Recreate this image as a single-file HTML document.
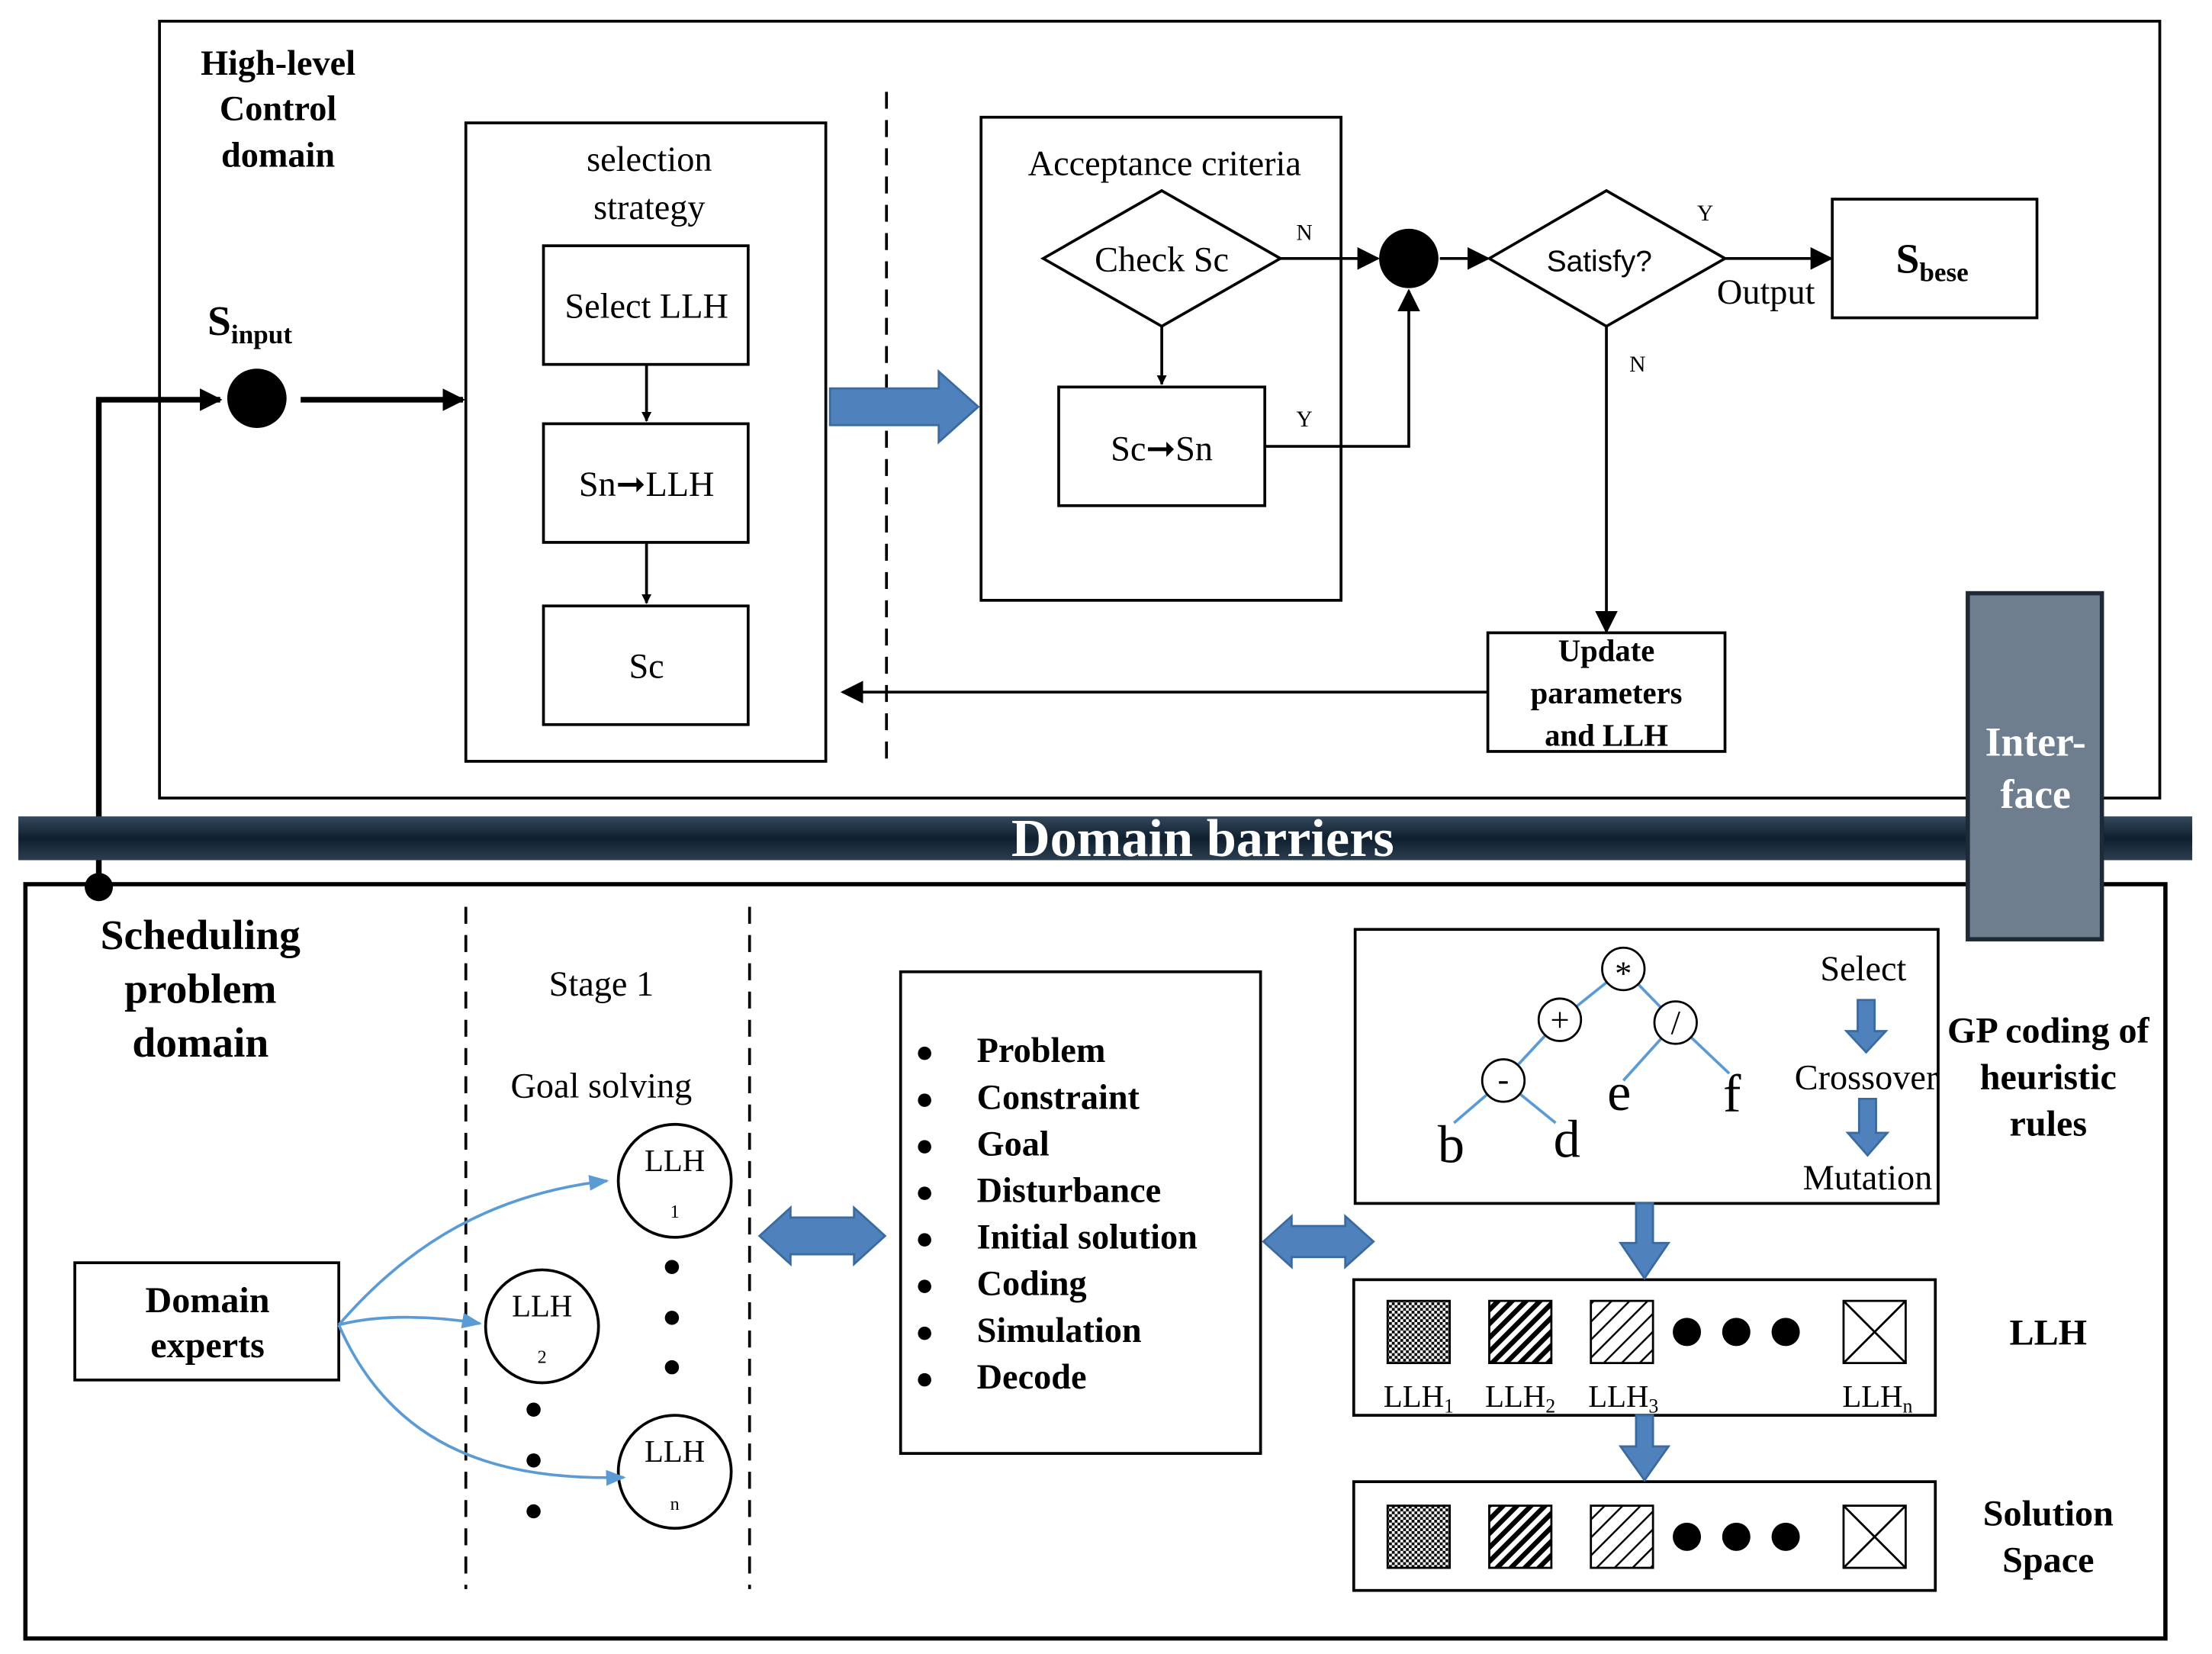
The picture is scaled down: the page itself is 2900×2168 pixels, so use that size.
<!DOCTYPE html>
<html><head><meta charset="utf-8"><style>html,body{margin:0;padding:0;background:#fff}svg{display:block}</style></head>
<body>
<svg width="2900" height="2168" viewBox="0 0 1567 1171" preserveAspectRatio="none" xmlns="http://www.w3.org/2000/svg" font-family="Liberation Serif, serif">
<defs>
<marker id="ah" viewBox="0 0 10 10" refX="9" refY="5" markerWidth="7" markerHeight="7" orient="auto" markerUnits="userSpaceOnUse"><path d="M0,0 L10,5 L0,10 z" fill="#000"/></marker>
<marker id="ahb" viewBox="0 0 10 10" refX="9" refY="5" markerWidth="16" markerHeight="16" orient="auto" markerUnits="userSpaceOnUse"><path d="M0,0 L10,5 L0,10 z" fill="#000"/></marker>
<marker id="ahs" viewBox="0 0 10 10" refX="9" refY="5" markerWidth="14" markerHeight="14" orient="auto" markerUnits="userSpaceOnUse"><path d="M0,1 L10,5 L0,9 z" fill="#5b9bd5"/></marker>
<pattern id="chk" width="4" height="4" patternUnits="userSpaceOnUse"><rect width="4" height="4" fill="#fff"/><rect width="2" height="2" fill="#000"/><rect x="2" y="2" width="2" height="2" fill="#000"/></pattern>
<pattern id="dg" width="7" height="7" patternUnits="userSpaceOnUse" patternTransform="rotate(45)"><rect width="7" height="7" fill="#fff"/><rect width="3.5" height="7" fill="#000"/></pattern>
<pattern id="dl" width="9" height="9" patternUnits="userSpaceOnUse" patternTransform="rotate(45)"><rect width="9" height="9" fill="#fff"/><rect width="1.3" height="9" fill="#000"/></pattern>
<linearGradient id="bar" x1="0" y1="0" x2="0" y2="1"><stop offset="0" stop-color="#34495e"/><stop offset="0.5" stop-color="#0f1f2e"/><stop offset="1" stop-color="#2c3e50"/></linearGradient>
</defs>
<g fill="none" stroke="#000" stroke-width="2">
<rect x="113" y="15" width="1417" height="550"/>
<rect x="330" y="87" width="255" height="452"/>
<rect x="385" y="174" width="145" height="84"/>
<rect x="385" y="300" width="145" height="84"/>
<rect x="385" y="429" width="145" height="84"/>
<rect x="695" y="83" width="255" height="342"/>
<polygon points="739,183 823,135 907,183 823,231"/>
<rect x="750" y="274" width="146" height="84"/>
<polygon points="1055,183 1138,135 1222,183 1138,231"/>
<rect x="1298" y="141" width="145" height="84"/>
<rect x="1054" y="448" width="168" height="84"/>
<rect x="18" y="626" width="1516" height="534" stroke-width="3"/>
<rect x="53" y="894" width="187" height="83"/>
<rect x="638" y="688" width="255" height="341"/>
<rect x="960" y="658" width="413" height="194"/>
<rect x="959" y="906" width="412" height="96"/>
<rect x="959" y="1049" width="412" height="77"/>
<circle cx="478" cy="836" r="40"/><circle cx="384" cy="939" r="40"/><circle cx="478" cy="1042" r="40"/>
<line x1="628" y1="65" x2="628" y2="545" stroke-dasharray="12,8"/>
<line x1="330" y1="642" x2="330" y2="1125" stroke-dasharray="12,8"/>
<line x1="531" y1="642" x2="531" y2="1125" stroke-dasharray="12,8"/>
<line x1="458" y1="258" x2="458" y2="298" marker-end="url(#ah)"/>
<line x1="458" y1="384" x2="458" y2="427" marker-end="url(#ah)"/>
<line x1="823" y1="231" x2="823" y2="272" marker-end="url(#ah)"/>
<line x1="907" y1="183" x2="976" y2="183" marker-end="url(#ahb)"/>
<polyline points="896,316 998,316 998,206" marker-end="url(#ahb)"/>
<line x1="1020" y1="183" x2="1054" y2="183" marker-end="url(#ahb)"/>
<line x1="1222" y1="183" x2="1297" y2="183" marker-end="url(#ahb)"/>
<line x1="1138" y1="231" x2="1138" y2="447" marker-end="url(#ahb)"/>
<line x1="1054" y1="490" x2="597" y2="490" marker-end="url(#ahb)"/>
<polyline points="70,628 70,283 156,283" stroke-width="4" marker-end="url(#ahb)"/>
<line x1="213" y1="283" x2="328" y2="283" stroke-width="4" marker-end="url(#ahb)"/>
</g>
<circle cx="182" cy="282" r="21" fill="#000"/>
<circle cx="998" cy="183" r="21" fill="#000"/>
<circle cx="70" cy="628" r="10" fill="#000"/>
<g fill="#4f81bd" stroke="#3a6a9e" stroke-width="1.5">
<polygon points="588,275 665,275 665,263 693,288 665,313 665,301 588,301"/>
<polygon points="538,875 560,855 560,862 605,862 605,855 627,875 605,895 605,888 560,888 560,895"/>
<polygon points="895,879 915,861 915,868 953,868 953,861 973,879 953,897 953,890 915,890 915,897"/>
<polygon points="1316,708 1328,708 1328,730 1336,730 1322,745 1308,730 1316,730"/>
<polygon points="1317,778 1329,778 1329,802 1337,802 1323,818 1309,802 1317,802"/>
<polygon points="1159,852 1171,852 1171,880 1182,880 1165,905 1148,880 1159,880"/>
<polygon points="1159,1002 1171,1002 1171,1024 1182,1024 1165,1048 1148,1024 1159,1024"/>
</g>
<g fill="none" stroke="#5b9bd5" stroke-width="2">
<path d="M240,938 C290,880 350,845 430,836" marker-end="url(#ahs)"/>
<path d="M240,938 C270,930 310,932 340,937" marker-end="url(#ahs)"/>
<path d="M240,938 C280,1030 360,1048 442,1046" marker-end="url(#ahs)"/>
<line x1="1150" y1="686" x2="1105" y2="722"/><line x1="1150" y1="686" x2="1187" y2="724"/>
<line x1="1105" y1="722" x2="1065" y2="765"/>
<line x1="1187" y1="724" x2="1150" y2="765"/><line x1="1187" y1="724" x2="1225" y2="760"/>
<line x1="1065" y1="765" x2="1030" y2="795"/><line x1="1065" y1="765" x2="1102" y2="795"/>
</g>
<g fill="#fff" stroke="#000" stroke-width="1.5">
<circle cx="1150" cy="686" r="15"/><circle cx="1105" cy="722" r="15"/><circle cx="1187" cy="724" r="15"/><circle cx="1065" cy="765" r="15"/>
</g>
<rect x="13" y="578" width="1540" height="31" fill="url(#bar)"/>
<text x="852" y="606" text-anchor="middle" font-size="38" font-weight="bold" fill="#fff">Domain barriers</text>
<rect x="1394" y="420" width="95" height="245" fill="#6e7e8e" stroke="#1e2a36" stroke-width="3"/>
<text x="1442" y="535" text-anchor="middle" font-size="29" font-weight="bold" fill="#fff">Inter-</text>
<text x="1442" y="572" text-anchor="middle" font-size="29" font-weight="bold" fill="#fff">face</text>
<g stroke="#000" stroke-width="1.5">
<rect x="983" y="921" width="44" height="44" fill="url(#chk)"/>
<rect x="1055" y="921" width="44" height="44" fill="url(#dg)"/>
<rect x="1127" y="921" width="44" height="44" fill="url(#dl)"/>
<rect x="1306" y="921" width="44" height="44" fill="#fff"/>
<line x1="1306" y1="921" x2="1350" y2="965"/><line x1="1350" y1="921" x2="1306" y2="965"/>
<rect x="983" y="1066" width="44" height="44" fill="url(#chk)"/>
<rect x="1055" y="1066" width="44" height="44" fill="url(#dg)"/>
<rect x="1127" y="1066" width="44" height="44" fill="url(#dl)"/>
<rect x="1306" y="1066" width="44" height="44" fill="#fff"/>
<line x1="1306" y1="1066" x2="1350" y2="1110"/><line x1="1350" y1="1066" x2="1306" y2="1110"/>
</g>
<g fill="#000">
<circle cx="1195" cy="943" r="10"/><circle cx="1230" cy="943" r="10"/><circle cx="1265" cy="943" r="10"/>
<circle cx="1195" cy="1088" r="10"/><circle cx="1230" cy="1088" r="10"/><circle cx="1265" cy="1088" r="10"/>
<circle cx="476" cy="897" r="5"/><circle cx="476" cy="933" r="5"/><circle cx="476" cy="968" r="5"/>
<circle cx="378" cy="998" r="5"/><circle cx="378" cy="1034" r="5"/><circle cx="378" cy="1070" r="5"/>
</g>
<g fill="#000" text-anchor="middle">
<g font-size="25" font-weight="bold"><text x="197" y="53">High-level</text><text x="197" y="85">Control</text><text x="197" y="118">domain</text></g>
<text x="147" y="237" text-anchor="start" font-size="30" font-weight="bold">S<tspan font-size="19" dy="6">input</tspan></text>
<g font-size="25"><text x="460" y="121">selection</text><text x="460" y="155">strategy</text>
<text x="458" y="225">Select LLH</text><text x="458" y="351">Sn➞LLH</text><text x="458" y="480">Sc</text>
<text x="825" y="124">Acceptance criteria</text><text x="823" y="192">Check Sc</text><text x="823" y="326">Sc➞Sn</text>
<text x="1251" y="215">Output</text></g>
<text x="1133" y="192" font-size="21" font-family="Liberation Sans, sans-serif">Satisfy?</text>
<g font-size="16"><text x="924" y="170">N</text><text x="924" y="302">Y</text><text x="1208" y="156">Y</text><text x="1160" y="263">N</text></g>
<text x="1343" y="193" text-anchor="start" font-size="30" font-weight="bold">S<tspan font-size="19" dy="6">bese</tspan></text>
<g font-size="22" font-weight="bold"><text x="1138" y="468">Update</text><text x="1138" y="498">parameters</text><text x="1138" y="528">and LLH</text></g>
<g font-size="30" font-weight="bold"><text x="142" y="672">Scheduling</text><text x="142" y="710">problem</text><text x="142" y="748">domain</text></g>
<g font-size="25"><text x="426" y="705">Stage 1</text><text x="426" y="777">Goal solving</text></g>
<g font-size="22"><text x="478" y="829">LLH</text><text x="384" y="932">LLH</text><text x="478" y="1035">LLH</text></g>
<g font-size="13"><text x="478" y="862">1</text><text x="384" y="965">2</text><text x="478" y="1069">n</text></g>
<g font-size="26" font-weight="bold"><text x="147" y="929">Domain</text><text x="147" y="961">experts</text></g>
<g font-size="25" font-weight="bold" text-anchor="start">
<text x="692" y="752">Problem</text><text x="692" y="785">Constraint</text><text x="692" y="818">Goal</text><text x="692" y="851">Disturbance</text><text x="692" y="884">Initial solution</text><text x="692" y="917">Coding</text><text x="692" y="950">Simulation</text><text x="692" y="983">Decode</text></g>
<g font-size="22"><text x="655" y="752">●</text><text x="655" y="785">●</text><text x="655" y="818">●</text><text x="655" y="851">●</text><text x="655" y="884">●</text><text x="655" y="917">●</text><text x="655" y="950">●</text><text x="655" y="983">●</text></g>
<g font-size="24"><text x="1150" y="697">*</text><text x="1105" y="730">+</text><text x="1187" y="732">/</text><text x="1065" y="772">-</text></g>
<g font-size="38"><text x="1028" y="823">b</text><text x="1110" y="819">d</text><text x="1147" y="786">e</text><text x="1227" y="787">f</text></g>
<g font-size="25"><text x="1320" y="694">Select</text><text x="1322" y="771">Crossover</text><text x="1323" y="842">Mutation</text></g>
<g font-size="26" font-weight="bold"><text x="1451" y="738">GP coding of</text><text x="1451" y="771">heuristic</text><text x="1451" y="804">rules</text><text x="1451" y="952">LLH</text><text x="1451" y="1080">Solution</text><text x="1451" y="1113">Space</text></g>
<g font-size="22"><text x="1005" y="996">LLH<tspan font-size="14" dy="4">1</tspan></text><text x="1077" y="996">LLH<tspan font-size="14" dy="4">2</tspan></text><text x="1150" y="996">LLH<tspan font-size="14" dy="4">3</tspan></text><text x="1330" y="996">LLH<tspan font-size="14" dy="4">n</tspan></text></g>
</g>
</svg>
</body></html>
